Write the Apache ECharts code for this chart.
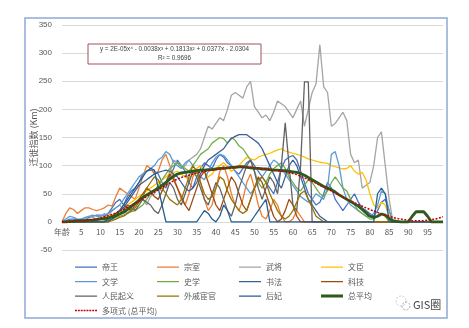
<!DOCTYPE html>
<html><head><meta charset="utf-8">
<script src="https://cdn.jsdelivr.net/npm/echarts@6/dist/echarts.min.js"></script>
<style>html,body{margin:0;padding:0;background:#fff}#c{width:469px;height:328px}</style>
</head><body><div id="c"></div>
<script>
// categories: index 0 labelled "年龄", then ages 1..99
const categories = ['年龄'];
for (let i = 1; i < 100; i++) categories.push(String(i));

const yTicks = [-50, 0, 50, 100, 150, 200, 250, 300, 350];

const diwang = [0,2,5,5,3,5,5,8,10,12, 12,10,15,25,35,40,30,45,55,60, 70,85,90,92,90,85,70,60,80,95, 110,100,90,70,60,80,95,105,100,95, 110,120,115,105,100,90,85,95,105,110, 100,90,80,70,60,50,70,95,110,115, 118,110,90,70,50,40,30,35,50,70, 60,40,30,20,30,40,50,35,25,20, 15,10,20,35,40,20,0,0,0,0, 0,0,0,0,0,0,0,0,0,0];
const zongshi = [0,15,25,22,15,20,25,25,22,20, 22,25,30,28,45,60,55,50,45,40, 60,80,100,95,85,90,110,120,100,80, 60,40,30,50,80,95,70,40,20,30, 60,90,100,80,50,30,20,40,70,85, 60,30,10,5,20,40,30,10,0,0, 5,20,10,0,0,0,0,0,0,0, 0,0,0,0,0,0,0,0,0,0, 0,0,0,0,0,0,0,0,0,0, 0,0,0,0,0,0,0,0,0,0];
const wujiang = [0,0,0,0,0,0,5,10,8,5, 10,15,10,20,25,30,20,15,25,30, 35,40,30,45,50,60,55,70,90,110, 105,95,100,110,115,120,130,150,170,165, 175,185,180,200,225,230,225,220,240,250, 205,195,185,190,180,195,215,210,205,195, 185,200,215,170,200,230,245,315,240,230, 170,175,185,195,180,120,105,110,60,65, 70,100,150,160,100,40,0,0,0,0, 0,0,0,0,0,0,0,0,0,0];
const wenchen = [0,0,0,0,0,0,0,2,3,5, 5,8,10,12,15,20,25,30,35,40, 45,50,55,60,65,70,75,80,85,88, 90,85,80,75,85,95,100,90,80,85, 95,100,105,98,90,95,100,108,115,112, 110,115,118,120,122,125,128,130,126,124, 122,120,118,115,112,110,108,106,105,104, 100,98,96,94,95,100,90,85,88,75, 50,30,25,35,30,10,0,0,0,0, 0,0,0,0,0,0,0,0,0,0];
const wenxue = [0,5,10,8,5,5,8,10,12,10, 10,12,15,20,25,30,40,50,60,70, 80,85,90,95,100,110,115,125,120,105, 100,95,105,110,100,90,80,75,90,105, 115,120,118,110,100,90,80,70,60,50, 60,70,80,90,100,110,105,95,85,75, 65,55,45,40,35,40,50,45,40,60, 120,125,100,60,40,30,25,20,15,10, 10,15,30,55,50,20,0,0,0,0, 0,0,0,0,0,0,0,0,0,0];
const shixue = [0,0,0,0,0,0,0,0,0,0, 0,2,5,5,8,10,12,15,18,20, 25,30,40,50,55,65,75,85,95,100, 105,100,95,90,100,110,120,125,130,140, 145,150,148,140,150,145,135,130,120,110, 90,70,60,70,85,95,100,105,95,80, 70,60,55,65,75,70,60,50,45,55, 70,80,70,60,55,40,30,20,15,10, 5,5,10,15,10,0,0,0,0,0, 0,0,0,0,0,0,0,0,0,0];
const shufa = [0,0,0,0,0,0,0,0,0,0, 0,0,5,10,15,20,25,35,45,55, 65,70,75,80,85,88,90,92,90,85, 80,70,60,55,60,70,85,100,110,115, 120,125,130,140,148,152,155,155,155,150, 145,140,130,115,100,85,70,60,80,100, 110,100,80,60,40,30,20,10,5,0, 0,0,0,0,0,0,0,0,0,0, 0,0,0,0,0,0,0,0,0,0, 0,0,0,0,0,0,0,0,0,0];
const keji = [0,0,0,0,0,0,0,0,0,0, 0,0,5,10,15,20,30,25,20,30, 40,50,60,55,45,40,55,70,85,75, 60,45,30,20,40,60,80,90,70,50, 30,20,40,60,80,70,50,30,20,40, 60,80,70,50,30,10,0,5,20,40, 30,10,0,0,0,0,0,0,0,0, 0,0,0,0,0,0,0,0,0,0, 0,0,0,0,0,0,0,0,0,0, 0,0,0,0,0,0,0,0,0,0];
const renmin = [0,0,0,0,0,0,0,0,0,0, 0,0,0,5,10,15,20,30,25,20, 30,40,35,30,20,15,30,50,70,60, 40,30,50,70,90,80,60,40,30,50, 70,60,40,20,10,30,60,80,100,110, 90,60,40,60,80,70,50,100,176,100, 30,20,100,249,249,0,0,0,0,0, 0,0,0,0,0,0,0,0,0,0, 0,0,0,0,0,0,0,0,0,0, 0,0,0,0,0,0,0,0,0,0];
const waiqi = [0,0,0,0,0,0,0,0,0,0, 0,0,0,2,5,8,10,15,20,25, 35,45,60,70,80,75,60,50,40,35, 30,40,60,80,100,90,70,50,40,45, 60,80,75,55,40,30,20,15,20,40, 60,75,80,70,50,35,20,10,5,10, 20,35,50,55,40,25,10,5,0,0, 0,0,0,0,0,0,0,0,0,0, 0,0,0,0,0,0,0,0,0,0, 0,0,0,0,0,0,0,0,0,0];
const houfei = [0,0,0,0,0,0,0,0,0,0, 0,0,2,5,10,20,30,40,50,60, 70,80,90,95,92,60,30,0,0,0, 0,0,0,0,0,0,10,20,15,5, 0,10,30,20,0,0,0,0,0,0, 10,20,30,40,0,0,0,0,0,0, 0,0,0,0,0,0,0,0,0,0, 0,0,0,0,0,0,0,0,0,0, 0,0,50,60,50,0,0,0,0,0, 0,0,0,0,0,0,0,0,0,0];
const zongpingjun = [0,0,1,1,2,2,2,3,3,4, 5,6,7,9,11,14,17,22,28,33, 38,43,48,52,56,60,65,70,76,81, 85,87,88,89,90,91,92,92,93,93, 94,95,95,96,97,97,98,98,97,96, 95,95,94,94,93,92,92,91,91,90, 89,88,86,83,79,75,71,67,63,60, 57,53,48,44,40,36,32,28,22,16, 10,8,10,14,12,6,2,1,0,0, 0,10,18,18,18,10,0,0,0,0];
const trend = [0,0,0,1,1,2,2,3,4,5, 7,9,11,13,16,19,22,26,29,33, 37,41,45,49,53,57,61,65,69,73, 76,79,81,83,85,87,88,90,91,92, 93,94,95,96,96,97,97,97,97,97, 96,96,95,94,93,92,91,90,89,87, 86,84,81,78,75,72,69,65,62,58, 55,51,48,44,41,37,34,31,28,25, 22,19,17,14,12,10,8,6,5,4, 3,2,2,2,2,3,4,5,7,9];

const seriesDefs = [
  ['帝王', diwang, '#4472C4'],
  ['宗室', zongshi, '#ED7D31'],
  ['武将', wujiang, '#A5A5A5'],
  ['文臣', wenchen, '#FFC000'],
  ['文学', wenxue, '#5B9BD5'],
  ['史学', shixue, '#70AD47'],
  ['书法', shufa, '#3A5F9A'],
  ['科技', keji, '#9E480E'],
  ['人民起义', renmin, '#636363'],
  ['外戚宦官', waiqi, '#997300'],
  ['后妃', houfei, '#255E91'],
];

const series = seriesDefs.map(([name, data, color]) => ({
  name, type: 'line', data, symbol: 'none', color,
  lineStyle: { width: 1.3, color }, z: 2
}));
series.push({ name: '总平均', type: 'line', data: zongpingjun, symbol: 'none', color: '#2F5A1E',
  lineStyle: { width: 2.8, color: '#2F5A1E' }, z: 4 });
series.push({ name: '多项式 (总平均)', type: 'line', data: trend, symbol: 'none', color: '#C00000',
  lineStyle: { width: 1.5, type: [2, 1.5], color: '#C00000' }, z: 5 });

// legend icons: a 22x8 box with a horizontal stroke in the middle
const bbox = 'M0,0h0.01v0.01h-0.01z M0,7.99h0.01v0.01h-0.01z ';
const thinIcon = 'path://' + bbox + 'M0,3.4h22v1.3h-22z';
const thickIcon = 'path://' + bbox + 'M0,2.6h22v2.8h-22z';
let dots = '';
for (let x = 0; x < 22; x += 3) dots += 'M' + x + ',3.2h2v1.6h-2z ';
const dotIcon = 'path://' + bbox + dots;
const iconFor = n => n === '总平均' ? thickIcon : (n === '多项式 (总平均)' ? dotIcon : thinIcon);

const legendCols = [
  ['帝王', '文学', '人民起义', '多项式 (总平均)'],
  ['宗室', '史学', '外戚宦官'],
  ['武将', '书法', '后妃'],
  ['文臣', '科技', '总平均']
];
const colX = [75, 157, 239, 321];
const legends = legendCols.map((names, i) => ({
  data: names.map(n => ({ name: n, icon: iconFor(n) })),
  orient: 'vertical', left: colX[i], top: 262,
  itemWidth: 22, itemHeight: 8, itemGap: 4.5, padding: 0,
  textStyle: { fontSize: 8, color: '#595959', lineHeight: 10, fontFamily: 'Noto Sans CJK SC' },
  selectedMode: false
}));

const chart = echarts.init(document.getElementById('c'), null, { renderer: 'canvas' });
chart.setOption({
  animation: false,
  backgroundColor: '#fff',
  grid: { left: 62, right: 26, top: 25, bottom: 78, containLabel: false },
  legend: legends,
  xAxis: {
    type: 'category', data: categories, boundaryGap: false,
    offset: -28,
    axisLine: { onZero: false, lineStyle: { color: '#d9d9d9' } },
    axisTick: { show: false },
    axisLabel: { interval: 4, fontSize: 8, color: '#595959', margin: 6, fontFamily: 'Noto Sans CJK SC' },
    splitLine: { show: false }
  },
  yAxis: {
    type: 'value', min: yTicks[0], max: yTicks[yTicks.length - 1], interval: 50,
    name: '迁徙指数 (Km)', nameLocation: 'middle', nameGap: 24, nameRotate: 90,
    nameMoveOverlap: false,
    nameTextStyle: { fontSize: 9, color: '#595959', fontFamily: 'Noto Sans CJK SC' },
    axisLine: { show: false }, axisTick: { show: false },
    axisLabel: { fontSize: 8, color: '#595959', margin: 10 },
    splitLine: { lineStyle: { color: '#d9d9d9', width: 1 } }
  },
  series,
  graphic: [
    { type: 'rect', shape: { x: 25, y: 18, width: 422, height: 300 }, silent: true, z: -1,
      style: { fill: 'none', stroke: '#8FA9D6', lineWidth: 1.5 } },
    { type: 'rect', shape: { x: 88, y: 44, width: 173, height: 20 }, z: 10,
      style: { fill: '#fff', stroke: '#A0525E', lineWidth: 1 } },
    { type: 'text', x: 174.5, y: 49.5, z: 11,
      style: { text: 'y = 2E-05x⁴ - 0.0038x³ + 0.1813x² + 0.0377x - 2.0304', fontSize: 6.3, fill: '#404040',
        textAlign: 'center', textVerticalAlign: 'middle', fontFamily: 'Liberation Sans' } },
    { type: 'text', x: 174.5, y: 58.5, z: 11,
      style: { text: 'R² = 0.9696', fontSize: 6.3, fill: '#404040',
        textAlign: 'center', textVerticalAlign: 'middle', fontFamily: 'Liberation Sans' } },
    { type: 'circle', shape: { cx: 401, cy: 301, r: 5 }, z: 10,
      style: { fill: 'none', stroke: '#c8c8c8', lineWidth: 1, lineDash: [2, 1.5] } },
    { type: 'circle', shape: { cx: 406, cy: 306, r: 4 }, z: 10,
      style: { fill: 'none', stroke: '#a8a8a8', lineWidth: 1, lineDash: [2, 1.5] } },
    { type: 'text', x: 413, y: 305, z: 11,
      style: { text: 'GIS圈', fontSize: 11, fill: '#444', textVerticalAlign: 'middle', fontFamily: 'Noto Sans CJK SC' } }
  ]
});
</script></body></html>
